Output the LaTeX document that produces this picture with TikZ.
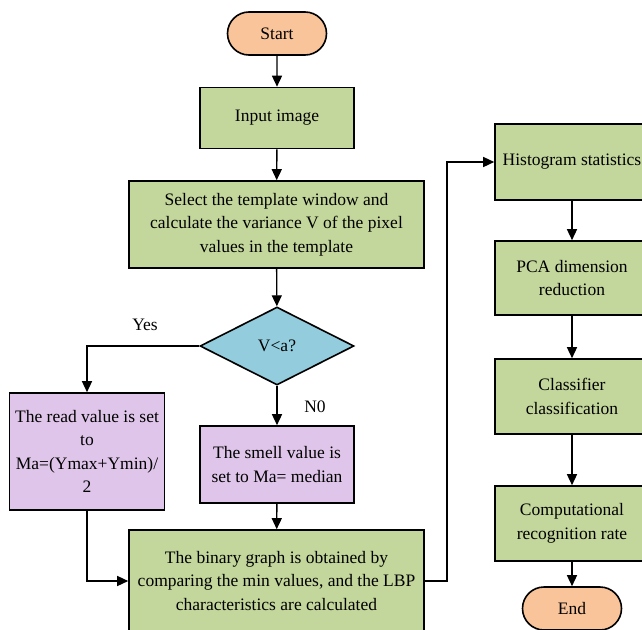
\documentclass[tikz,border=0pt]{standalone}
\usepackage{fontspec}
\setmainfont{Liberation Serif}
\usetikzlibrary{arrows.meta,shapes.geometric,shapes.misc}
\definecolor{boxgreen}{HTML}{C3D69B}
\definecolor{boxpurple}{HTML}{E0C5EA}
\definecolor{boxorange}{HTML}{F9C499}
\definecolor{boxblue}{HTML}{93CDDD}
\tikzset{
  base/.style={draw=black, line width=1.6pt, align=center, inner sep=0pt,
    font=\fontsize{17.5}{23.5}\selectfont},
  procbox/.style={base, rectangle, fill=boxgreen},
  altbox/.style={base, rectangle, fill=boxpurple},
  termbox/.style={base, rounded rectangle, fill=boxorange},
  decbox/.style={base, diamond, fill=boxblue, aspect=1.97},
  lbl/.style={font=\fontsize{17.5}{23.5}\selectfont, inner sep=0pt},
  arr/.style={line width=1.4pt, -{Triangle[length=11pt,width=10pt]}},
  ln/.style={line width=1.4pt}
}
\begin{document}
\begin{tikzpicture}[x=1pt,y=-1pt]
\useasboundingbox (0,0) rectangle (642,629);
\clip (0,0) rectangle (642,629);
\fill[white] (0,0) rectangle (642,629);
% left column
\node[termbox, minimum width=99pt, minimum height=43pt] (start) at (277,33.5) {Start};
\node[procbox, minimum width=154pt, minimum height=61pt] (input) at (277,118) {Input image};
\node[procbox, minimum width=295pt, minimum height=87pt] (select) at (276.5,224.5) {Select the template window and\\calculate the variance V of the pixel\\values in the template};
\node[decbox, minimum width=154pt, minimum height=78pt] (dec) at (277,346) {V<a?};
\node[altbox, minimum width=155pt, minimum height=117pt] (read) at (87,451.5) {The read value is set\\to\\Ma=(Ymax+Ymin)/\\2};
\node[altbox, minimum width=154pt, minimum height=77pt] (smell) at (277,464.5) {The smell value is\\set to Ma= median};
\node[procbox, minimum width=295pt, minimum height=102pt] (binary) at (276.5,581) {The binary graph is obtained by\\comparing the min values, and the LBP\\characteristics are calculated};
% right column
\node[procbox, minimum width=154pt, minimum height=76pt] (hist) at (572,162) {Histogram statistics};
\node[procbox, minimum width=154pt, minimum height=74pt] (pca) at (572,278) {PCA dimension\\reduction};
\node[procbox, minimum width=154pt, minimum height=75pt] (cls) at (572,396.5) {Classifier\\classification};
\node[procbox, minimum width=154pt, minimum height=75pt] (comp) at (572,523.5) {Computational\\recognition rate};
\node[termbox, minimum width=99pt, minimum height=43pt] (end) at (572,608.5) {End};
% labels
\node[lbl] (yes) at (145,325) {Yes};
\node[lbl] (no) at (315,407) {N0};
% connectors
\draw[arr] (start) -- (input);
\draw[arr] (input) -- (select);
\draw[arr] (select) -- (dec);
\draw[arr] (dec.west) -| (read.north);
\draw[arr] (dec.south) -- (smell.north);
\draw[arr] (smell) -- (binary);
\draw[arr] (read.south) |- (binary.west);
\coordinate (up) at (447,581);
\draw[arr] (binary.east) -- (up) |- (hist.west);
\draw[arr] (hist) -- (pca);
\draw[arr] (pca) -- (cls);
\draw[arr] (cls) -- (comp);
\draw[arr] (comp) -- (end);
\end{tikzpicture}
\end{document}
